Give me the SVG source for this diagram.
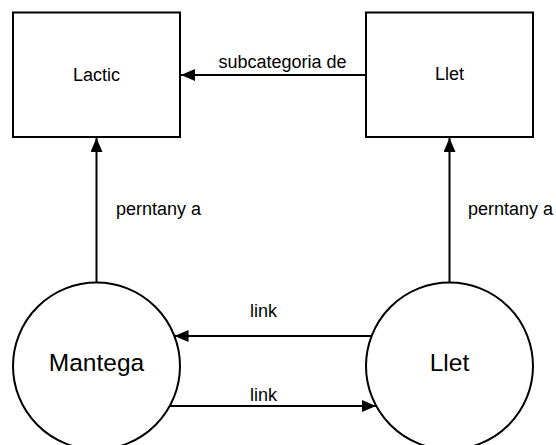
<svg xmlns="http://www.w3.org/2000/svg" width="556" height="445" viewBox="0 0 556 445">
  <style>
    .shape { fill: #ffffff; stroke: #000000; stroke-width: 2; }
    .edge { fill: none; stroke: #000000; stroke-width: 2; }
    .label { font-family: "Liberation Sans", Arial, sans-serif; fill: #000000; }
    .box-label { font-size: 18px; text-anchor: middle; }
    .circle-label { font-size: 24.5px; text-anchor: middle; }
    .edge-label { font-size: 18px; }
  </style>
  <defs>
    <marker id="arrow" markerUnits="userSpaceOnUse" markerWidth="15" markerHeight="13" refX="14" refY="6" orient="auto">
      <path d="M0,0 L14,6 L0,12 z" fill="#000000"/>
    </marker>
  </defs>
  <rect width="556" height="445" fill="#ffffff"/>

  <g id="connectors">
    <line class="edge" x1="366" y1="75" x2="181" y2="75" marker-end="url(#arrow)"/>
    <line class="edge" x1="96.5" y1="282.5" x2="96.5" y2="138" marker-end="url(#arrow)"/>
    <line class="edge" x1="449.5" y1="282.5" x2="449.5" y2="138" marker-end="url(#arrow)"/>
    <line class="edge" x1="371.5" y1="336" x2="174.5" y2="336" marker-end="url(#arrow)"/>
    <line class="edge" x1="170" y1="406" x2="376" y2="406" marker-end="url(#arrow)"/>
    <text class="label edge-label" x="282.5" y="68" text-anchor="middle">subcategoria de</text>
    <text class="label edge-label" x="116" y="215">perntany a</text>
    <text class="label edge-label" x="468" y="215">perntany a</text>
    <text class="label edge-label" x="250" y="317">link</text>
    <text class="label edge-label" x="250" y="400.5">link</text>
  </g>

  <g id="node-lactic">
    <rect class="shape" x="13" y="12.5" width="167" height="124.5"/>
    <text class="label box-label" x="96.5" y="80.5">Lactic</text>
  </g>

  <g id="node-llet-category">
    <rect class="shape" x="366" y="12.5" width="167" height="124.5"/>
    <text class="label box-label" x="449.5" y="80">Llet</text>
  </g>

  <g id="node-mantega">
    <circle class="shape" cx="96.5" cy="366" r="83.5"/>
    <text class="label circle-label" x="96.5" y="370.5">Mantega</text>
  </g>

  <g id="node-llet">
    <circle class="shape" cx="449.5" cy="366" r="83.5"/>
    <text class="label circle-label" x="449.5" y="371">Llet</text>
  </g>
</svg>
